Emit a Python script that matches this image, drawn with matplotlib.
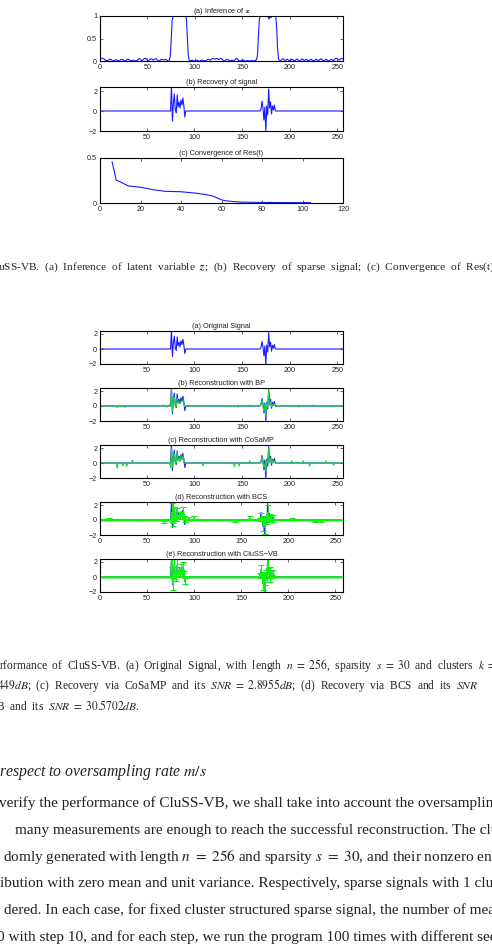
import numpy as np
import matplotlib.pyplot as plt

plt.rcParams['font.family'] = ['Liberation Sans', 'DejaVu Sans']
plt.rcParams['mathtext.fontset'] = 'stix'

N = 256

# (a) inference of z, in percent, index 1..256
z_pct = [5, 6, 6, 5, 3, 2, 1, 1, 2, 4,
         4, 3, 1, 0, 1, 2, 3, 2, 1, 0,
         1, 3, 4, 3, 1, 0, 0, 2, 4, 4,
         2, 1, 0, 1, 2, 1, 0, 0, 1, 3,
         5, 5, 3, 1, 2, 4, 6, 6, 4, 2,
         1, 2, 4, 5, 4, 2, 3, 5, 5, 3,
         1, 0, 1, 3, 4, 3, 2, 3, 4, 3,
         1, 0, 2, 10, 45, 90, 100, 100, 100, 100,
         100, 100, 100, 100, 100, 100, 100, 100, 100, 100,
         95, 55, 12, 2, 0, 1, 2, 1, 0, 0,
         1, 2, 1, 0, 0, 1, 2, 2, 1, 0,
         0, 1, 3, 4, 3, 2, 3, 5, 6, 5,
         4, 5, 6, 5, 3, 4, 6, 5, 3, 1,
         0, 1, 3, 4, 3, 1, 0, 1, 2, 1,
         0, 2, 5, 6, 4, 1, 0, 0, 1, 2,
         2, 1, 0, 0, 1, 1, 0, 0, 1, 1,
         0, 0, 1, 2, 3, 15, 60, 95, 100, 100,
         100, 100, 100, 100, 100, 100, 100, 93, 100, 96,
         100, 100, 100, 100, 100, 80, 30, 5, 1, 0,
         2, 4, 5, 3, 1, 2, 4, 3, 1, 0,
         2, 4, 3, 1, 0, 2, 4, 4, 2, 0,
         1, 3, 5, 3, 1, 2, 4, 3, 1, 0,
         2, 4, 3, 1, 0, 1, 3, 4, 2, 1,
         2, 4, 5, 3, 1, 0, 2, 4, 3, 1,
         0, 1, 3, 4, 2, 1, 3, 5, 6, 5,
         3, 2, 4, 6, 6, 4]

# original sparse signal (two clusters)
sig_idx = [76, 77, 78, 79, 80, 81, 82, 83, 84, 85, 86, 87, 88, 89, 90,
           170, 171, 172, 173, 174, 175, 176, 177, 178, 179, 180, 181, 182, 183, 184]
sig_val = [2.6, -1.0, 0.8, 1.7, 0.1, -0.2, 1.6, 0.4, 0.9, 0.3, 1.1, 0.6, 1.3, 0.5, -0.6,
           0.2, 1.0, 0.3, -0.9, 0.4, -2.1, 0.5, -0.4, 2.2, 0.3, 0.9, -0.3, 0.5, 0.1, 0.6]

# (c) convergence of Res(t)
res_t = [6, 8, 10, 14, 20, 27, 32, 40, 47, 52, 56, 60, 62, 65, 70, 80, 90, 104]
res_v = [0.455, 0.255, 0.235, 0.19, 0.175, 0.145, 0.13, 0.125, 0.11, 0.095,
         0.075, 0.035, 0.025, 0.018, 0.01, 0.006, 0.005, 0.004]

# BP reconstruction
bp_idx = sig_idx + [14, 19, 22, 27, 31, 44, 50, 61, 67, 71, 74, 95, 101, 108, 114, 127,
                    135, 141, 146, 158, 165, 189, 196, 203, 210, 218, 225, 232, 238, 244, 251]
bp_val = [2.3, -0.7, 0.9, 1.2, 0.3, -0.1, 1.0, 0.6, 0.4, 0.5, 0.7, 0.6, 0.9, 0.3, -0.1,
          0.3, 0.9, 0.1, -0.7, 0.2, -1.4, 0.4, -0.2, 2.1, 0.1, 0.6, -0.1, 0.2, 0.2, 0.3,
          0.1, -0.2, -0.15, -0.2, 0.1, 0.1, -0.1, 0.1, 0.15, -0.15, 0.2, 0.1, 0.1, 0.1, -0.1, 0.1,
          -0.1, -0.1, -0.15, 0.15, 0.1, -0.1, 0.1, 0.1, -0.15, 0.1, 0.15, -0.1, 0.1, -0.15, -0.1]

# CoSaMP reconstruction
cosamp_idx = sig_idx + [19, 25, 29, 35, 75, 109, 142, 147, 158, 202, 214, 221, 238, 246]
cosamp_val = [2.0, -0.5, 1.0, 1.3, 0.0, 0.0, 1.4, 0.3, 0.7, 0.2, 0.9, 0.4, 1.0, 0.0, 0.0,
              0.0, 0.8, 0.0, -0.6, 0.0, -1.2, 0.3, 0.0, 2.0, 0.0, 0.6, 0.0, 0.4, 0.0, 0.3,
              -0.7, -0.4, -0.5, 0.4, -0.6, -0.4, -0.5, -0.4, 0.3, 0.3, 0.3, -0.4, 0.3, -0.3]

# BCS reconstruction with error bars
bcs_idx = sig_idx + [10, 26, 49, 58, 68, 94, 100, 143, 147, 159, 204, 221, 228, 235]
bcs_val = [1.0, -0.3, 1.0, 1.2, 0.4, 0.1, 0.9, 0.5, 0.6, 0.3, 0.8, 0.5, 0.9, 0.4, 0.1,
           0.1, 0.5, 0.1, -0.6, 0.2, -1.0, 0.2, -0.2, 1.0, 0.1, 0.4, -0.1, 0.3, 0.0, 0.2,
           0.15, 0.05, 0.05, 0.1, -0.25, 0.2, 0.35, -0.1, 0.05, 0.3, 0.15, 0.05, -0.2, -0.15]
bcs_err = [1.3, 0.5, 1.4, 0.6, 0.3, 0.2, 0.7, 0.2, 0.5, 0.2, 0.3, 0.3, 0.8, 0.2, 0.3,
           0.2, 0.4, 0.1, 0.8, 0.3, 0.9, 0.3, 0.3, 1.0, 0.2, 0.4, 0.2, 0.3, 0.2, 0.5,
           0.15, 0.05, 0.05, 0.1, 0.15, 0.15, 0.2, 0.1, 0.1, 0.2, 0.15, 0.05, 0.1, 0.1]

# CluSS-VB reconstruction with error bars
cluss_idx = sig_idx
cluss_val = [2.5, -0.9, 0.8, 1.6, 0.1, -0.2, 1.6, 0.4, 0.9, 0.3, 1.1, 0.6, 1.3, 0.5, -0.5,
             0.2, 1.0, 0.3, -0.9, 0.4, -2.0, 0.5, -0.4, 2.2, 0.3, 0.9, -0.3, 0.5, 0.1, 0.6]
cluss_err = [1.2, 0.8, 0.6, 0.9, 0.4, 0.3, 0.8, 0.3, 0.5, 0.3, 0.6, 0.4, 0.7, 0.3, 0.4,
             0.3, 0.6, 0.2, 0.8, 0.3, 0.9, 0.4, 0.3, 1.0, 0.3, 0.4, 0.3, 0.3, 0.2, 0.4]

titles_top = ['(a) Inference of $\\mathbf{z}$', '(b) Recovery of signal',
              '(c) Convergence of Res(t)']
titles_rec = ['(a) Original Signal', '(b) Reconstruction with BP',
              '(c) Reconstruction with CoSaMP', '(d) Reconstruction with BCS',
              '(e) Reconstruction with CluSS\u2212VB']

BLUE = '#1a1aff'
GREEN = '#20d040'
LIME = '#10f010'


def spikes(idx, val):
    s = np.zeros(N)
    s[np.array(idx) - 1] = val
    return s


def style(ax, title, xlim, xticks, ylim, yticks, ylabels=None):
    ax.set_xlim(xlim)
    ax.set_ylim(ylim)
    ax.set_xticks(xticks)
    ax.set_yticks(yticks)
    if ylabels is not None:
        ax.set_yticklabels(ylabels)
    ax.tick_params(direction='in', length=2, width=0.5, top=True, right=True,
                   labelsize=5.2, pad=2, colors='#222222')
    for sp in ax.spines.values():
        sp.set_linewidth(0.8)
    ax.set_title(title, fontsize=5.3, pad=2.5, color='#222222')


fig = plt.figure(figsize=(4.92, 9.5), dpi=100)
H = 950.0
L, W = 100 / 492, 243 / 492


def axes_px(top, bottom):
    return fig.add_axes([L, 1 - bottom / H, W, (bottom - top) / H])


x = np.arange(1, N + 1)
sig = spikes(sig_idx, sig_val)

# ---- first figure ----
ax = axes_px(16, 61)
ax.plot(x, np.array(z_pct) / 100.0, color=BLUE, lw=0.8)
style(ax, titles_top[0], (0, 256), [0, 50, 100, 150, 200, 250], (0, 1), [0, 0.5, 1],
      ['0', '0.5', '1'])

ax = axes_px(87, 131)
ax.plot(x, sig, color=BLUE, lw=0.8)
style(ax, titles_top[1], (1, 256), [50, 100, 150, 200, 250], (-2, 2.4), [-2, 0, 2])

ax = axes_px(158, 203)
ax.plot(res_t, res_v, color=BLUE, lw=0.8)
style(ax, titles_top[2], (0, 120), [0, 20, 40, 60, 80, 100, 120], (0, 0.5), [0, 0.5],
      ['0', '0.5'])

# ---- second figure ----
tops = [331, 388, 445, 502, 559]
recs = [None,
        (spikes(bp_idx, bp_val), None),
        (spikes(cosamp_idx, cosamp_val), None),
        (spikes(bcs_idx, bcs_val), spikes(bcs_idx, bcs_err)),
        (spikes(cluss_idx, cluss_val), spikes(cluss_idx, cluss_err))]

for i, top in enumerate(tops):
    ax = axes_px(top, top + 33)
    ax.plot(x, sig, color=BLUE, lw=0.8)
    if i in (1, 2):
        ax.plot(x, recs[i][0], color=GREEN, lw=0.8)
    elif i in (3, 4):
        ax.errorbar(x, recs[i][0], yerr=recs[i][1], color=LIME, lw=0.8,
                    elinewidth=0.8, capsize=2.2, capthick=0.8)
    if i < 3:
        style(ax, titles_rec[i], (1, 256), [50, 100, 150, 200, 250], (-2, 2.4), [-2, 0, 2])
    else:
        style(ax, titles_rec[i], (0, 258), [0, 50, 100, 150, 200, 250], (-2, 2.4), [-2, 0, 2])

# ---- page text (the page is cropped on both sides) ----
serif = ['Liberation Serif', 'DejaVu Serif']
tc = '#222222'


def line(xpx, ypx, s, size, **kw):
    fig.text(xpx / 492, 1 - ypx / H, s, fontsize=size, family=serif, color=tc,
             ha='left', va='center', **kw)


line(-2, 267, 'uSS-VB.  (a)  Inference  of  latent  variable  $\\boldsymbol{z}$;  (b)  Recovery  of  '
     'sparse  signal;  (c)  Convergence  of  Res(t)', 8.2)

line(-1, 666, 'rformance  of  CluSS-VB.  (a)  Original  Signal,  with  length  $n\\ =\\ 256$,  '
     'sparsity  $s\\ =\\ 30$  and  clusters  $k\\ =\\ 2$', 8.3)
line(-3, 686, '$449dB$;  (c)  Recovery  via  CoSaMP  and  its  $SNR\\ =\\ 2.8955dB$;  (d)  '
     'Recovery  via  BCS  and  its  $SNR$', 8.3)
line(-4, 706, 'B  and  its  $SNR\\ =\\ 30.5702dB$.', 8.3)

line(-1, 772, 'respect to oversampling rate $m/s$', 11.3, style='italic')

body = ['verify the performance of CluSS-VB, we shall take into account the oversampling',
        'many measurements are enough to reach the successful reconstruction. The cluster',
        'domly generated with length $n\\ =\\ 256$ and sparsity $s\\ =\\ 30$, and their nonzero entries',
        'ibution with zero mean and unit variance. Respectively, sparse signals with 1 cluster',
        'dered. In each case, for fixed cluster structured sparse signal, the number of measurements',
        '0 with step 10, and for each step, we run the program 100 times with different seeds']
body_x = [-1, 15, 3, 0, 4, -3]
body_y = [803, 830, 857, 883, 910, 937]
for bx, by, s in zip(body_x, body_y, body):
    line(bx, by, s, 11)

fig.savefig('out.png', dpi=100)
